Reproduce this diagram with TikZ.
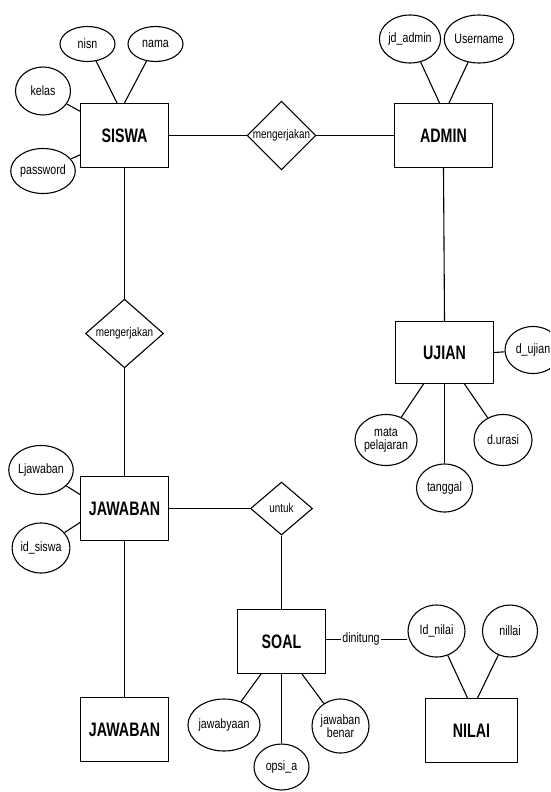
\documentclass[tikz,border=0pt]{standalone}
\usepackage{fontspec}
\setmainfont{Liberation Sans}
\newfontfamily\entfont[FakeStretch=0.73]{Liberation Sans}
\newfontfamily\attfont[FakeStretch=0.79]{Liberation Sans}
\usetikzlibrary{shapes.geometric}
\begin{document}
\begin{tikzpicture}[x=1pt,y=-1pt,line width=1.1pt,
 ent/.style={draw, rectangle, inner sep=0pt, minimum width=88pt, minimum height=64pt, font=\entfont\bfseries\fontsize{19.5}{19.5}\selectfont},
 attr/.style={draw, ellipse, inner sep=0pt, minimum width=55pt, minimum height=48pt, align=center, font=\attfont\fontsize{13.5}{13}\selectfont},
 rel/.style={draw, diamond, inner sep=0pt, font=\attfont\fontsize{12.5}{12.5}\selectfont},
 lbl/.style={inner sep=1pt, font=\attfont\fontsize{13.5}{13.5}\selectfont}
]
\fill[white] (0,0) rectangle (550,792);
\clip (0,0) rectangle (550,792);
% entities
\node[ent] (siswa) at (124.5,135.5) {SISWA};
\node[ent, minimum width=98pt] (admin) at (443.5,135.5) {ADMIN};
\node[ent, minimum width=98pt, minimum height=62pt] (ujian) at (444.5,352.5) {UJIAN};
\node[ent] (jaw1) at (124.5,508.5) {JAWABAN};
\node[ent] (soal) at (281.5,641.5) {SOAL};
\node[ent] (jaw2) at (124.5,729.5) {JAWABAN};
\node[ent, minimum width=92pt] (nilai) at (471.5,730.5) {NILAI};
% relationships
\node[rel, minimum width=67pt, minimum height=58pt] (rel1) at (281.5,135.5) {mengerjakan};
\node[rel, minimum width=78pt, minimum height=61pt] (rel2) at (124.5,333.5) {mengerjakan};
\node[rel, minimum width=62pt, minimum height=53pt] (untuk) at (281.5,508.5) {untuk};
\node[lbl] (dinitung) at (361,639.5) {dinitung};
% attributes
\node[attr, minimum height=35pt] (nisn) at (87.5,44) {nisn};
\node[attr, minimum height=35pt] (nama) at (155.5,44) {nama};
\node[attr] (kelas) at (43,91) {kelas};
\node[attr, minimum height=45pt] (password) at (43,171) {password};
\node[attr, minimum width=56pt] (jdadmin) at (410,39) {jd\_admin};
\node[attr, minimum width=58pt] (username) at (479,39) {Username};
\node[attr, minimum width=56pt, minimum height=47pt] (dujian) at (533,350) {d\_ujian};
\node[attr, minimum width=57pt, minimum height=51pt] (mata) at (386,440) {mata\\pelajaran};
\node[attr, minimum width=58pt, minimum height=51pt] (durasi) at (503,440) {d.urasi};
\node[attr, minimum width=56pt] (tanggal) at (444.5,488) {tanggal};
\node[attr, minimum width=56pt, minimum height=49pt] (ljawaban) at (41,470) {Ljawaban};
\node[attr, minimum width=56pt, minimum height=50pt] (idsiswa) at (41,548) {id\_siswa};
\node[attr, minimum width=57pt, minimum height=52pt] (idnilai) at (436.5,631) {Id\_nilai};
\node[attr, minimum height=52pt] (nillai) at (510,631) {nillai};
\node[attr, minimum width=54pt, minimum height=52pt] (jawabyaan) at (224,725) {jawabyaan};
\node[attr, minimum width=57pt, minimum height=54pt] (benar) at (340.5,726) {jawaban\\benar};
\node[attr, minimum height=46pt] (opsia) at (281.5,767) {opsi\_a};
% relationship connectors
\draw (siswa.east) -- (rel1.west);
\draw (rel1.east) -- (admin.west);
\draw (siswa.south) -- (rel2.north);
\draw (rel2.south) -- (jaw1.north);
\draw (admin.south) -- (ujian.north);
\draw (jaw1.east) -- (untuk.west);
\draw (untuk.south) -- (soal.north);
\draw (jaw1.south) -- (jaw2.north);
\draw (soal.east |- dinitung.west) -- (dinitung.west);
\draw (dinitung.east) -- (idnilai.west |- dinitung.east);
% attribute connectors
\draw (nisn) -- ([xshift=-7.5pt]siswa.north);
\draw (nama) -- (siswa.north);
\draw (kelas) -- (siswa);
\draw (password) -- (siswa);
\draw (jdadmin) -- ([xshift=-4pt]admin.north);
\draw (username) -- ([xshift=5.5pt]admin.north);
\draw (ujian.east) -- (dujian);
\draw (mata) -- ([xshift=-21pt]ujian.south);
\draw (ujian.south) -- (tanggal);
\draw (durasi) -- ([xshift=20pt]ujian.south);
\draw (ljawaban) -- ([yshift=14pt]jaw1.west);
\draw (idsiswa) -- ([yshift=-14pt]jaw1.west);
\draw (idnilai) -- ([xshift=-4pt]nilai.north);
\draw (nillai) -- ([xshift=6pt]nilai.north);
\draw (jawabyaan) -- ([xshift=-20.5pt]soal.south);
\draw (soal.south) -- (opsia);
\draw (benar) -- ([xshift=20.5pt]soal.south);
\end{tikzpicture}
\end{document}
